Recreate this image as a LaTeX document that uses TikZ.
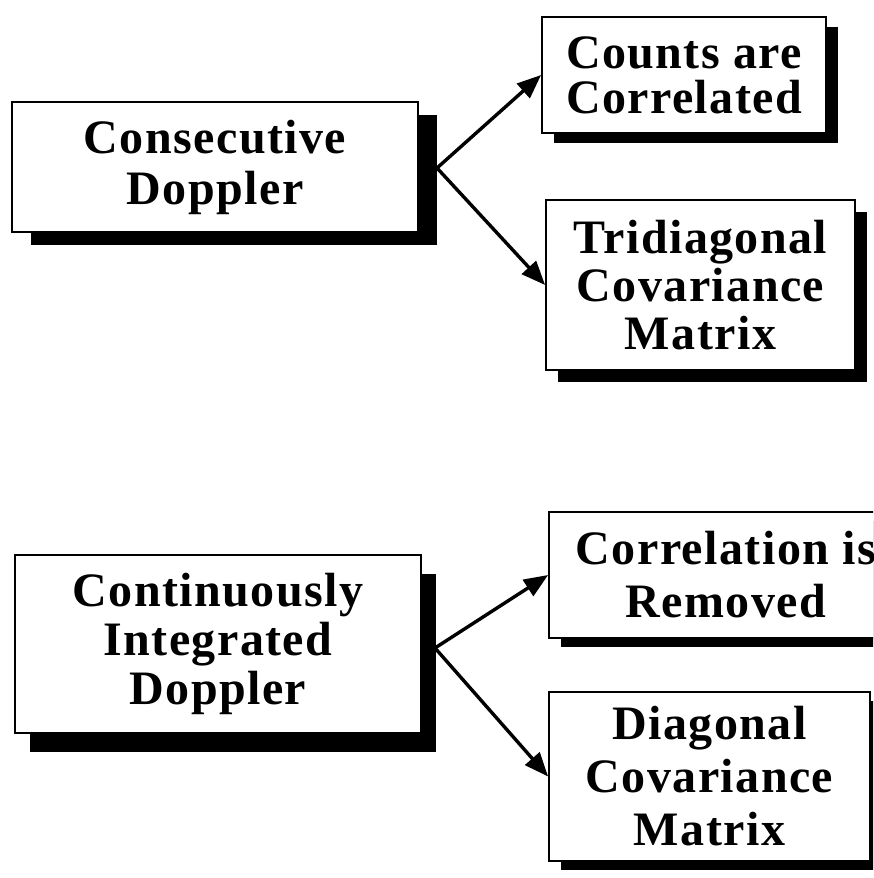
\documentclass[tikz,border=0pt]{standalone}
\usepackage{fontspec}
\setmainfont{Liberation Serif}[LetterSpace=3]
\usetikzlibrary{arrows.meta,shadows}
\tikzset{
  dbox/.style={draw, line width=1.8pt, fill=white, inner sep=0pt, align=center,
    font=\bfseries\fontsize{48}{#1}\selectfont},
  sh/.style 2 args={drop shadow={shadow xshift=#1, shadow yshift=#2, fill=black, opacity=1}},
  conn/.style={line width=3.4pt, -{Triangle[length=24pt,width=19pt]}},
}
\begin{document}
\begin{tikzpicture}[x=1pt,y=-1pt]
\useasboundingbox (0,0) rectangle (873,878);
\clip (0,0) rectangle (873,878);
% top group
\node[dbox=51, sh={19pt}{-13pt}, minimum width=406pt, minimum height=130pt] (b1) at (215,167) {Consecutive\\Doppler};
\node[dbox=45, sh={12pt}{-10pt}, minimum width=284pt, minimum height=116pt] (b2) at (684,75) {Counts are\\Correlated};
\node[dbox=48, sh={12pt}{-12pt}, minimum width=309pt, minimum height=170pt] (b3) at (700.5,285) {Tridiagonal\\Covariance\\Matrix};
\coordinate (s1) at (437,168);
\draw[conn] (s1) -- (b2.west);
\draw[conn] (s1) -- (b3.west);
% bottom group
\node[dbox=49, sh={15pt}{-19pt}, minimum width=406pt, minimum height=178pt] (b4) at (218,644) {Continuously\\Integrated\\Doppler};
\node[dbox=53, sh={12pt}{-9pt}, minimum width=354pt, minimum height=126pt] (b5) at (726,575) {Correlation is\\Removed};
\node[dbox=53, sh={12pt}{-9pt}, minimum width=321pt, minimum height=169pt] (b6) at (709.5,776.5) {Diagonal\\Covariance\\Matrix};
\coordinate (s2) at (435,648);
\draw[conn] (s2) -- (b5.west);
\draw[conn] (s2) -- (b6.west);
\end{tikzpicture}
\end{document}
